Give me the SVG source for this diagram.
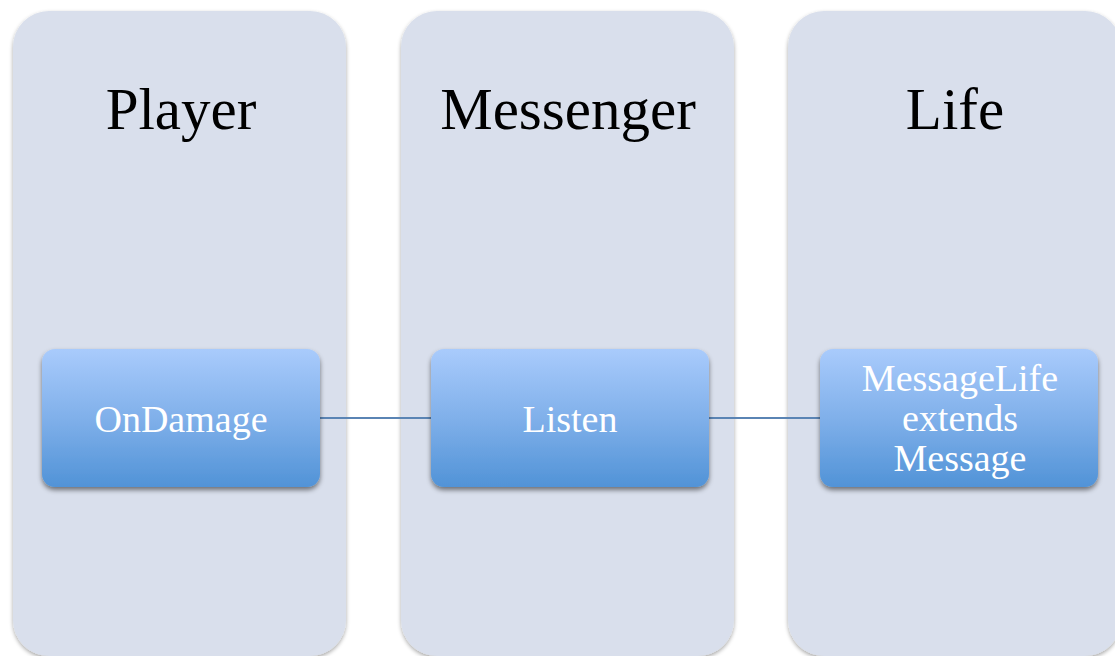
<svg xmlns="http://www.w3.org/2000/svg" width="1115" height="656" viewBox="0 0 1115 656">
  <defs>
    <linearGradient id="boxFill" x1="0" y1="0" x2="0" y2="1">
      <stop offset="0" stop-color="#a9cbfc"/>
      <stop offset="0.5" stop-color="#80b0ea"/>
      <stop offset="1" stop-color="#5193d7"/>
    </linearGradient>
    <filter id="colShadow" x="-10%" y="-10%" width="120%" height="120%">
      <feGaussianBlur in="SourceAlpha" stdDeviation="2"/>
      <feOffset dx="0" dy="2" result="b"/>
      <feComponentTransfer><feFuncA type="linear" slope="0.35"/></feComponentTransfer>
      <feMerge><feMergeNode/><feMergeNode in="SourceGraphic"/></feMerge>
    </filter>
    <filter id="boxShadow" x="-10%" y="-10%" width="120%" height="130%">
      <feGaussianBlur in="SourceAlpha" stdDeviation="2.5"/>
      <feOffset dx="0" dy="3" result="b"/>
      <feComponentTransfer><feFuncA type="linear" slope="0.5"/></feComponentTransfer>
      <feMerge><feMergeNode/><feMergeNode in="SourceGraphic"/></feMerge>
    </filter>
  </defs>
  <style>
    .col { fill: #d9dfec; filter: url(#colShadow); }
    .title { font-family: "Liberation Serif", "DejaVu Serif", serif; font-size: 59px; fill: #000; text-anchor: middle; }
    .box { fill: url(#boxFill); filter: url(#boxShadow); }
    .label { font-family: "Liberation Serif", "DejaVu Serif", serif; font-size: 38px; fill: #fff; text-anchor: middle; }
    .link { stroke: #5a84b4; stroke-width: 2; fill: none; }
  </style>
  <rect width="1115" height="656" fill="#ffffff"/>

  <!-- swimlane columns -->
  <g id="lane-player">
    <rect class="col" x="13" y="11" width="333" height="645" rx="36"/>
    <text class="title" x="181" y="129">Player</text>
  </g>
  <g id="lane-messenger">
    <rect class="col" x="401" y="11" width="333" height="645" rx="36"/>
    <text class="title" x="568" y="129">Messenger</text>
  </g>
  <g id="lane-life">
    <rect class="col" x="788" y="11" width="333" height="645" rx="36"/>
    <text class="title" x="955" y="129">Life</text>
  </g>

  <!-- connectors -->
  <g id="connectors">
    <line class="link" x1="320" y1="418" x2="431" y2="418"/>
    <line class="link" x1="709" y1="418" x2="820" y2="418"/>
  </g>

  <!-- nodes -->
  <g id="node-ondamage">
    <rect class="box" x="42" y="349" width="278" height="138" rx="13"/>
    <text class="label" x="181" y="432">OnDamage</text>
  </g>
  <g id="node-listen">
    <rect class="box" x="431" y="349" width="278" height="138" rx="13"/>
    <text class="label" x="570" y="432">Listen</text>
  </g>
  <g id="node-messagelife">
    <rect class="box" x="820" y="349" width="278" height="138" rx="13"/>
    <text class="label" x="960" y="391">MessageLife</text>
    <text class="label" x="960" y="431">extends</text>
    <text class="label" x="960" y="471">Message</text>
  </g>
</svg>
